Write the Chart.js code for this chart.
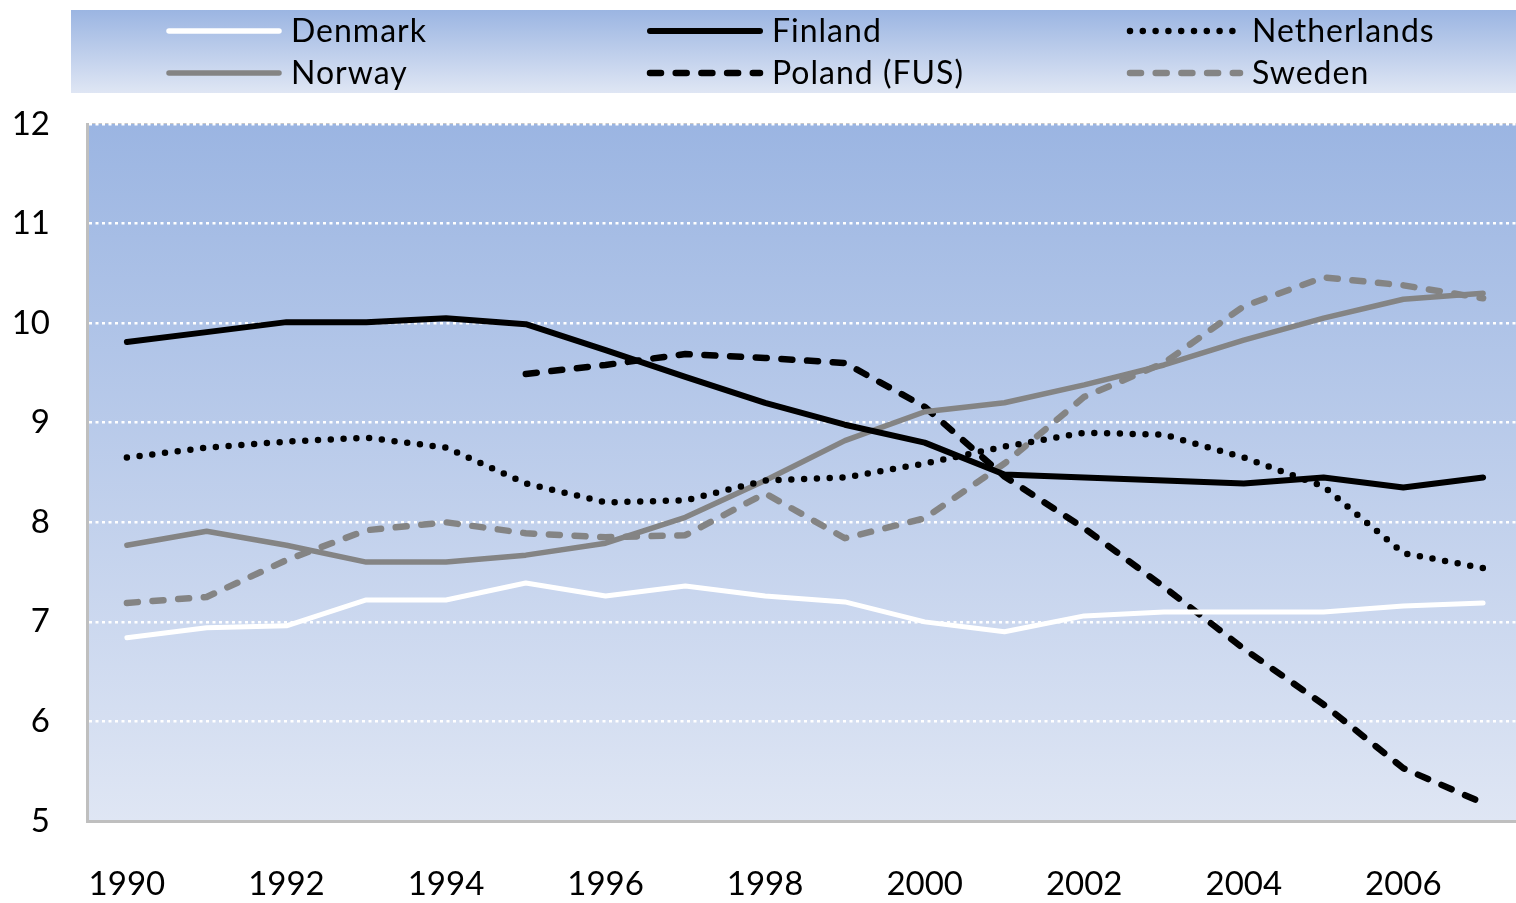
<!DOCTYPE html>
<html>
<head>
<meta charset="utf-8">
<script src="https://cdn.jsdelivr.net/npm/chart.js@4/dist/chart.umd.min.js"></script>
<style>
  html, body { margin: 0; padding: 0; background: #fff; overflow: hidden; }
  #wrap { width: 1516px; height: 903px; overflow: hidden; }
  canvas { display: block; }
</style>
</head>
<body>
<div id="wrap"><canvas id="chart" width="1523" height="903"></canvas></div>
<script>
'use strict';

const years = ['1990','1991','1992','1993','1994','1995','1996','1997','1998',
               '1999','2000','2001','2002','2003','2004','2005','2006','2007'];

const denmark     = [6.84, 6.94, 6.96, 7.22, 7.22, 7.39, 7.26, 7.36, 7.26, 7.20, 7.00, 6.90, 7.06, 7.10, 7.10, 7.10, 7.16, 7.19];
const finland     = [9.81, 9.91, 10.01, 10.01, 10.05, 9.99, 9.73, 9.46, 9.20, 8.98, 8.80, 8.48, 8.45, 8.42, 8.39, 8.45, 8.35, 8.45];
const netherlands = [8.65, 8.75, 8.81, 8.85, 8.75, 8.39, 8.20, 8.22, 8.42, 8.45, 8.59, 8.76, 8.90, 8.88, 8.65, 8.36, 7.69, 7.54];
const norway      = [7.77, 7.91, 7.77, 7.60, 7.60, 7.67, 7.79, 8.05, 8.42, 8.82, 9.11, 9.20, 9.38, 9.58, 9.83, 10.05, 10.24, 10.30];
const poland      = [null, null, null, null, null, 9.49, 9.58, 9.69, 9.65, 9.60, 9.16, 8.46, 7.94, 7.35, 6.73, 6.17, 5.53, 5.18];
const sweden      = [7.19, 7.25, 7.62, 7.92, 8.00, 7.89, 7.85, 7.87, 8.29, 7.84, 8.04, 8.59, 9.26, 9.60, 10.17, 10.46, 10.38, 10.25];

const GRAY = '#848484';
const DASH = [11, 14.7];
const DOTS = [0, 12.8];
const FONT = 'Lato, "Open Sans", sans-serif';

function blueGradient(ctx, top, bottom) {
  const g = ctx.createLinearGradient(0, top, 0, bottom);
  g.addColorStop(0, '#9bb5e2');
  g.addColorStop(1, '#dfe6f4');
  return g;
}

// plot + legend backgrounds, and the 3-column legend
const backdrop = {
  id: 'backdrop',
  beforeDraw(chart) {
    const { ctx, chartArea: a } = chart;
    ctx.save();
    ctx.fillStyle = blueGradient(ctx, a.top, a.bottom);
    ctx.fillRect(a.left, a.top, chart.width - a.left, a.bottom - a.top);
    ctx.fillStyle = '#c8c8c8';
    ctx.fillRect(a.left, a.top - 1, chart.width - a.left, 1);
    ctx.fillStyle = blueGradient(ctx, 10, 93);
    ctx.fillRect(71, 10, chart.width - 71, 83);
    ctx.restore();
  },
  afterDraw(chart) {
    const ctx = chart.ctx;
    const cols = [167, 648, 1128];
    const rows = [31, 73];
    ctx.save();
    chart.data.datasets.forEach((ds, i) => {
      const x = cols[i % 3], y = rows[Math.floor(i / 3)];
      ctx.beginPath();
      ctx.strokeStyle = ds.borderColor;
      ctx.lineWidth = Math.max(ds.borderWidth, 5.5);
      ctx.lineCap = 'round';
      ctx.setLineDash(ds.borderDash || []);
      ctx.moveTo(x + 2, y);
      ctx.lineTo(x + 112, y);
      ctx.stroke();
      ctx.setLineDash([]);
      ctx.fillStyle = '#000';
      ctx.font = '32px ' + FONT;
      ctx.letterSpacing = '1px';
      ctx.textBaseline = 'middle';
      ctx.fillText(ds.label, x + 124, y + 1);
    });
    ctx.restore();
  }
};

const line = (label, data, color, width, dash) => ({
  label, data,
  borderColor: color,
  borderWidth: width,
  borderDash: dash || [],
  borderCapStyle: 'round',
  borderJoinStyle: 'round',
  pointRadius: 0,
  tension: 0,
  spanGaps: false,
  fill: false,
});

new Chart(document.getElementById('chart'), {
  type: 'line',
  data: {
    labels: years,
    datasets: [
      line('Denmark', denmark, '#ffffff', 5),
      line('Finland', finland, '#000000', 6),
      line('Netherlands', netherlands, '#000000', 6.5, DOTS),
      line('Norway', norway, GRAY, 5.5),
      line('Poland (FUS)', poland, '#000000', 6.5, DASH),
      line('Sweden', sweden, GRAY, 6.5, DASH),
    ],
  },
  options: {
    responsive: false,
    animation: false,
    devicePixelRatio: 1,
    layout: { autoPadding: false, padding: { top: 124, right: 0, left: 0, bottom: 0 } },
    plugins: { legend: { display: false }, tooltip: { enabled: false } },
    scales: {
      x: {
        offset: true,
        afterFit: s => { s.height = 82; s.paddingRight = 0; s.paddingLeft = 0; },
        grid: { display: false, drawTicks: false },
        border: { display: true, color: '#bfbfbf', width: 3 },
        ticks: {
          autoSkip: false, maxRotation: 0, padding: 44,
          color: '#000', font: { family: FONT, size: 33 },
          callback: (v, i) => (i % 2 === 0 ? years[i] : ''),
        },
      },
      y: {
        min: 5, max: 12,
        afterFit: s => { s.width = 87; s.paddingTop = 0; s.paddingBottom = 0; },
        grid: {
          color: ctx => (ctx.tick.value === 5 ? 'rgba(0,0,0,0)' : '#ffffff'),
          lineWidth: 2.5, drawTicks: false,
        },
        border: { display: true, color: '#bfbfbf', width: 3, dash: [3, 3.5] },
        ticks: {
          stepSize: 1, padding: 37,
          color: '#000', font: { family: FONT, size: 33 },
        },
      },
    },
  },
  plugins: [backdrop],
});
</script>
</body>
</html>
